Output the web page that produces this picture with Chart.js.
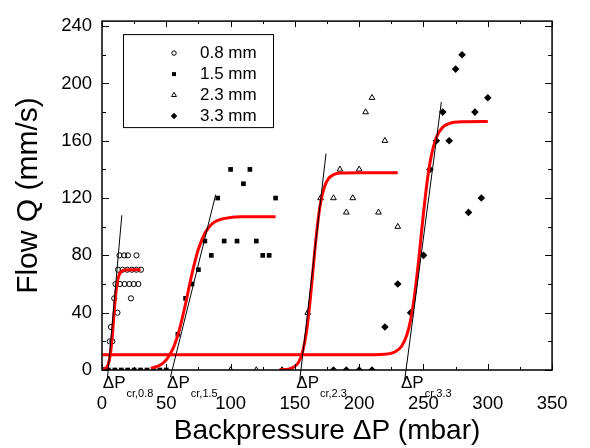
<!DOCTYPE html>
<html><head><meta charset="utf-8">
<script src="https://cdn.jsdelivr.net/npm/chart.js@4.4.1/dist/chart.umd.min.js"></script>
<style>html,body{margin:0;padding:0;background:#fff;}canvas{display:block;}</style>
</head><body>
<canvas id="c" width="590" height="448"></canvas>
<script>
// ---- data ----
const seriesNames = ['0.8 mm', '1.5 mm', '2.3 mm', '3.3 mm'];
const xTickValues = [0, 50, 100, 150, 200, 250, 300, 350];
const yTickValues = [0, 40, 80, 120, 160, 200, 240];

// 0.8 mm (open circles)
const p08 = [2, 4, 6, 8, 7, 12, 9.5, 22.5, 10.5, 14, 17.6, 21.2, 24.7, 28.3, 12.5, 16, 19.6, 23.2, 26.8, 30.3, 13.6, 17.2, 20.2, 26.8];
const q08 = [0, 0, 20, 20, 30, 40, 50, 50, 60, 60, 60, 60, 60, 60, 70, 70, 70, 70, 70, 70, 80, 80, 80, 80];
// 1.5 mm (filled squares)
const p15 = [5, 10, 15, 20, 25, 30, 35, 40, 45, 50, 59, 65, 70, 75, 80, 85, 90, 95, 100, 105, 110, 115, 120, 125, 130, 135];
const q15 = [0, 0, 0, 0, 0, 0, 0, 0, 0, 0, 25, 50, 60, 70, 90, 80, 120, 90, 140, 90, 130, 140, 90, 80, 80, 120];
// 2.3 mm (open triangles)
const p23 = [100, 120, 140, 160, 170, 180, 185, 190, 195, 200, 205, 210, 215, 220, 230];
const q23 = [0, 0, 0, 40, 120, 120, 140, 110, 120, 140, 180, 190, 110, 160, 100];
// 3.3 mm (filled diamonds)
const p33 = [180, 190, 200, 210, 220, 230, 240, 250, 255, 260, 265, 270, 275, 280, 285, 290, 295, 300];
const q33 = [0, 0, 0, 0, 30, 60, 40, 80, 140, 160, 180, 160, 210, 220, 110, 180, 120, 190];

// red fitted curves
const fit08x = [1, 2, 4, 5, 6, 7, 8, 9, 10, 11, 12, 13, 14, 16, 18, 24, 30];
const fit08q = [0.3, 0.7, 2.4, 4.5, 8.3, 14.6, 23.7, 35, 46.3, 55.4, 61.7, 65.5, 67.6, 69.3, 69.8, 70, 70];
const fit15x = [38, 45, 50, 55, 60, 65, 70, 75, 80, 85, 90, 100, 110, 135];
const fit15q = [1.1, 3.3, 7.1, 14.5, 27.5, 46.3, 67.2, 84.4, 95.4, 101.5, 104.4, 106.5, 106.9, 107];
const fit23x = [138, 145, 150, 153, 156, 159, 162, 164, 166, 168, 170, 173, 176, 180, 185, 200, 230];
const fit23q = [0.1, 0.6, 2.5, 5.7, 12.7, 26.6, 49.7, 68.9, 88, 104.4, 116.7, 127.9, 133.4, 136.3, 137.5, 137.7, 137.7];
const fit33x = [0, 100, 200, 220, 228, 233, 237, 240, 243, 246, 248, 250, 253, 256, 260, 265, 270, 280, 300];
const fit33q = [10.6, 10.6, 10.6, 11, 12.7, 16.6, 24.2, 34.9, 51.7, 74.6, 92, 109.4, 132.4, 149.1, 162.3, 169.5, 172, 173.2, 173.4];

// black tangent lines (end points)
const tan08x = [4.3, 15.4], tan08q = [-5, 108];
const tan15x = [53.2, 88.4], tan15q = [-5, 122.3];
const tan23x = [153.8, 174.2], tan23q = [-7, 151];
const tan33x = [235.4, 263.9], tan33q = [-7, 187];

// critical pressures (where tangents cross zero) and their labels
const critP = [4.5, 54.5, 155, 236.4];
const critSub = ['cr,0.8', 'cr,1.5', 'cr,2.3', 'cr,3.3'];

// ---- build ----
const FONT = "'Liberation Sans', Arial, sans-serif";
const pts = (xs, ys) => xs.map((x, i) => ({x: x, y: ys[i]}));

const markerStyles = [
  {pointStyle: 'circle', pointRadius: 2.6, pointBackgroundColor: 'rgba(0,0,0,0)', pointBorderColor: '#000', pointBorderWidth: 1},
  {pointStyle: 'rect', pointRadius: 3.3, pointBackgroundColor: '#000', pointBorderColor: '#000', pointBorderWidth: 0},
  {pointStyle: 'triangle', pointRadius: 3.3, pointBackgroundColor: 'rgba(0,0,0,0)', pointBorderColor: '#000', pointBorderWidth: 1},
  {pointStyle: 'rectRot', pointRadius: 3.8, pointBackgroundColor: '#000', pointBorderColor: '#000', pointBorderWidth: 0}
];
const markerData = [pts(p08, q08), pts(p15, q15), pts(p23, q23), pts(p33, q33)];

const datasets = [];
[[tan08x, tan08q], [tan15x, tan15q], [tan23x, tan23q], [tan33x, tan33q]].forEach(t => {
  datasets.push({data: pts(t[0], t[1]), showLine: true, borderColor: '#000', borderWidth: 1, pointRadius: 0, clip: false, order: 0});
});
[[fit08x, fit08q], [fit15x, fit15q], [fit23x, fit23q], [fit33x, fit33q]].forEach(f => {
  datasets.push({data: pts(f[0], f[1]), showLine: true, borderColor: '#ff0000', borderWidth: 3, pointRadius: 0, cubicInterpolationMode: 'monotone', clip: 0, order: 1});
});
markerData.forEach((d, i) => {
  datasets.push(Object.assign({label: seriesNames[i], data: d, showLine: false, clip: 0, order: 2}, markerStyles[i]));
});

function drawMarker(ctx, st, x, y, r) {
  ctx.save();
  ctx.fillStyle = st.pointBackgroundColor; ctx.strokeStyle = '#000'; ctx.lineWidth = 1;
  ctx.beginPath();
  if (st.pointStyle === 'circle') { ctx.arc(x, y, r, 0, Math.PI * 2); }
  else if (st.pointStyle === 'rect') { const s = r * Math.SQRT1_2; ctx.rect(x - s, y - s, 2 * s, 2 * s); }
  else if (st.pointStyle === 'triangle') {
    ctx.moveTo(x, y - r); ctx.lineTo(x + r * 0.866, y + r * 0.5); ctx.lineTo(x - r * 0.866, y + r * 0.5); ctx.closePath();
  } else { ctx.moveTo(x, y - r); ctx.lineTo(x + r, y); ctx.lineTo(x, y + r); ctx.lineTo(x - r, y); ctx.closePath(); }
  ctx.fill();
  if (st.pointBorderWidth > 0) ctx.stroke();
  ctx.restore();
}

const framePlugin = {
  id: 'frame',
  afterDatasetsDraw(chart) {
    const {ctx, chartArea: a, scales: {x, y}} = chart;
    ctx.save();
    ctx.strokeStyle = '#000';
    ctx.lineWidth = 1.5;
    ctx.strokeRect(a.left, a.top, a.right - a.left, a.bottom - a.top);
    ctx.lineWidth = 1;
    ctx.beginPath();
    const xt = [];
    xTickValues.forEach((v, i) => { xt.push([v, 6]); if (i < xTickValues.length - 1) xt.push([(v + xTickValues[i + 1]) / 2, 3]); });
    xt.forEach(([v, len]) => {
      const px = Math.round(x.getPixelForValue(v)) + 0.5;
      ctx.moveTo(px, a.bottom); ctx.lineTo(px, a.bottom - len);
      ctx.moveTo(px, a.top); ctx.lineTo(px, a.top + len);
    });
    const yt = [];
    yTickValues.forEach((v, i) => { yt.push([v, 7]); if (i < yTickValues.length - 1) yt.push([(v + yTickValues[i + 1]) / 2, 4]); });
    yt.forEach(([v, len]) => {
      const py = Math.round(y.getPixelForValue(v)) + 0.5;
      ctx.moveTo(a.left, py); ctx.lineTo(a.left + len, py);
      ctx.moveTo(a.right, py); ctx.lineTo(a.right - len, py);
    });
    ctx.stroke();
    ctx.restore();
  },
  afterDraw(chart) {
    const {ctx, chartArea: a, scales: {x}} = chart;
    ctx.save();
    ctx.fillStyle = '#000';
    ctx.textBaseline = 'alphabetic';
    critP.forEach((v, i) => {
      const px = x.getPixelForValue(v) - 5;
      ctx.font = "17px " + FONT;
      ctx.textAlign = 'left';
      ctx.fillText('\u0394P', px, a.bottom + 18);
      const w = ctx.measureText('\u0394P').width;
      ctx.font = "11px " + FONT;
      ctx.fillText(critSub[i], px + w + 1, a.bottom + 27);
    });
    // legend box
    const lx = a.left + 21, ly = a.top + 13;
    ctx.strokeStyle = '#000'; ctx.lineWidth = 1;
    ctx.strokeRect(lx + 0.5, ly + 0.5, 150, 93);
    ctx.font = "17px " + FONT;
    ctx.textBaseline = 'middle';
    seriesNames.forEach((n, i) => {
      const ry = ly + 19 + i * 21;
      drawMarker(ctx, markerStyles[i], lx + 51, ry, markerStyles[i].pointRadius * 0.85);
      ctx.fillStyle = '#000';
      ctx.fillText(n, lx + 77, ry);
    });
    ctx.restore();
  }
};

new Chart(document.getElementById('c'), {
  type: 'scatter',
  data: {datasets: datasets},
  options: {
    responsive: false, animation: false, devicePixelRatio: 1, events: [],
    layout: {padding: {left: 0, right: 30, top: 18, bottom: 0}},
    plugins: {legend: {display: false}, tooltip: {enabled: false}},
    scales: {
      x: {
        type: 'linear', min: 0, max: 350,
        afterBuildTicks: s => { s.ticks = xTickValues.map(v => ({value: v})); },
        afterFit: s => { s.height = 78; },
        grid: {display: false, drawTicks: false}, border: {display: false},
        ticks: {font: {family: FONT, size: 18.5}, color: '#000', padding: 22.5, maxRotation: 0, autoSkip: false},
        title: {display: true, text: 'Backpressure \u0394P (mbar)', font: {family: FONT, size: 28}, color: '#000', padding: {top: 0, bottom: 0}}
      },
      y: {
        type: 'linear', min: 0, max: 243.5,
        afterBuildTicks: s => { s.ticks = yTickValues.map(v => ({value: v})); },
        afterFit: s => { s.width = 102; },
        grid: {display: false, drawTicks: false}, border: {display: false},
        ticks: {font: {family: FONT, size: 18.5}, color: '#000', padding: 10, autoSkip: false},
        title: {display: true, text: 'Flow Q (mm/s)', font: {family: FONT, size: 30}, color: '#000', padding: {top: 11, bottom: 0}}
      }
    }
  },
  plugins: [framePlugin]
});
</script>
</body></html>
